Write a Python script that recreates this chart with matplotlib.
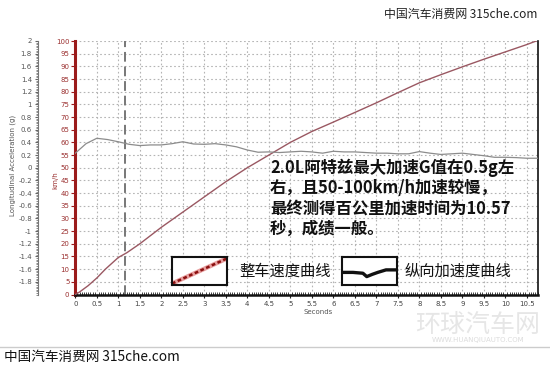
import matplotlib
matplotlib.use("Agg")
import matplotlib.pyplot as plt
from matplotlib.ticker import MultipleLocator, FixedLocator
import numpy as np

plt.rcParams['font.family'] = ['DejaVu Sans']
CJK = ['Noto Sans CJK SC', 'DejaVu Sans']

# Vehicle speed (km/h) against time (s)
speed_t = [0, 0.1, 0.3, 0.5, 0.7, 1.0, 1.2, 1.5, 2.0, 2.5, 3.0, 3.5, 4.0, 4.5,
           5.0, 5.5, 6.0, 6.5, 7.0, 7.5, 8.0, 8.5, 9.0, 9.5, 10.0, 10.5, 10.72]
speed_kmh = [0, 1, 3.5, 6.5, 10, 14.6, 16.5, 20, 26.5, 32.5, 38.5, 44.5, 50, 55,
             60, 64.3, 68, 71.8, 75.6, 79.6, 83.5, 86.7, 89.8, 92.8, 95.7, 98.6, 100]

# Longitudinal acceleration (g) against time (s)
accel_t = [0, 0.25, 0.5, 0.75, 1.0, 1.25, 1.5, 1.75, 2.0, 2.25, 2.5, 2.75, 3.0,
           3.25, 3.5, 3.75, 4.0, 4.25, 4.5, 4.75, 5.0, 5.25, 5.5, 5.75, 6.0,
           6.25, 6.5, 6.75, 7.0, 7.25, 7.5, 7.75, 8.0, 8.25, 8.5, 8.75, 9.0,
           9.25, 9.5, 9.75, 10.0, 10.25, 10.5, 10.75]
accel_g = [0.23, 0.38, 0.465, 0.445, 0.41, 0.37, 0.35, 0.36, 0.36, 0.38, 0.41,
           0.375, 0.37, 0.38, 0.36, 0.33, 0.28, 0.245, 0.25, 0.24, 0.25, 0.26,
           0.25, 0.23, 0.26, 0.25, 0.25, 0.24, 0.23, 0.23, 0.22, 0.22, 0.255,
           0.23, 0.21, 0.22, 0.23, 0.21, 0.19, 0.165, 0.165, 0.16, 0.15, 0.15]

marker_time = 1.16

x_ticks = [i * 0.5 for i in range(22)]
speed_ticks = list(range(0, 101, 5))
accel_ticks = [round(-1.8 + 0.2 * i, 1) for i in range(20)]

# Legend sample shapes (fractions of the sample box)
legend_speed_x = [0.0, 1.0]
legend_speed_y = [0.05, 0.95]
legend_accel_x = [0.0, 0.2, 0.38, 0.45, 0.55, 0.65, 0.8, 1.0]
legend_accel_y = [0.45, 0.45, 0.42, 0.30, 0.38, 0.45, 0.54, 0.54]

title_note = ["2.0L阿特兹最大加速G值在0.5g左",
              "右，且50-100km/h加速较慢，",
              "最终测得百公里加速时间为10.57",
              "秒，成绩一般。"]

W, H = 550, 366
fig = plt.figure(figsize=(W / 100, H / 100), dpi=100)
fig.patch.set_facecolor('white')


def fx(px):
    return px / W


def fy(py):
    return 1 - py / H


left, right, top, bottom = 75.3, 538, 41, 294.5
ax = fig.add_axes([fx(left), fy(bottom), fx(right - left), fy(top) - fy(bottom)])
ax.set_xlim(0, (right - left) / 43.0)
ax.set_ylim(0, 100)

# grid
ax.set_xticks(x_ticks)
ax.set_yticks(speed_ticks)
ax.grid(True, color='#b4b4b4', linestyle=(0, (1.5, 2.2)), linewidth=0.8)
ax.set_axisbelow(True)
ax.axvline(marker_time, color='#777777', linestyle=(0, (5, 2.5)), linewidth=1.4, zorder=2)

ax.plot(speed_t, speed_kmh, color='#9a5862', linewidth=1.0, zorder=4)

ax.spines['top'].set_visible(False)
ax.spines['left'].set_color('#9b1c1c')
ax.spines['left'].set_linewidth(2.2)
ax.spines['bottom'].set_color('#111111')
ax.spines['bottom'].set_linewidth(1.8)
ax.spines['right'].set_color('#111111')
ax.spines['right'].set_linewidth(1.2)

ax.xaxis.set_minor_locator(MultipleLocator(0.05))
ax.tick_params(axis='x', which='major', length=2, direction='out', color='#222222',
               labelsize=5, labelcolor='#444444', pad=2.5)
ax.tick_params(axis='x', which='minor', length=2, direction='in', color='#222222')
ax.tick_params(axis='y', which='major', length=3, direction='out', color='#9b1c1c',
               labelsize=5, labelcolor='#9b3030', pad=1.2)
ax.set_xticklabels([('%g' % v) for v in x_ticks])
ax.set_yticklabels([str(v) for v in speed_ticks])

# acceleration axis on the far left
ax2 = ax.twinx()
ax2.set_ylim(-2, 2)
ax2.plot(accel_t, accel_g, color='#8c8c8c', linewidth=0.9, zorder=3)
ax2.spines['right'].set_visible(False)
ax2.spines['top'].set_visible(False)
ax2.spines['bottom'].set_visible(False)
ax2.spines['left'].set_visible(True)
ax2.spines['left'].set_position(('axes', -(left - 37.5) / (right - left)))
ax2.spines['left'].set_color('#777777')
ax2.spines['left'].set_linewidth(0.8)
ax2.yaxis.set_ticks_position('left')
ax2.yaxis.set_label_position('left')
ax2.yaxis.set_major_locator(FixedLocator(accel_ticks))
ax2.yaxis.set_minor_locator(MultipleLocator(0.025))
ax2.set_yticklabels([('%g' % v) for v in accel_ticks])
ax2.tick_params(axis='y', which='major', length=2.5, color='#666666', labelsize=5,
                labelcolor='#555555', pad=1.5)
ax2.tick_params(axis='y', which='minor', length=1.5, color='#777777')

fig.text(fx(13), fy(165), 'Longitudinal Acceleration (g)', rotation=90, ha='center',
         va='center', fontsize=5, color='#555555')
fig.text(fx(55), fy(180), 'km/h', rotation=90, ha='center', va='center',
         fontsize=5, color='#9b3030')
fig.text(fx(318), fy(312), 'Seconds', ha='center', va='center', fontsize=5,
         color='#555555')

# commentary
for i, line in enumerate(title_note):
    fig.text(fx(270), fy(168 + 20.3 * i), line, ha='left', va='center',
             fontsize=11.8, fontweight='bold', family=CJK, color='#111111')

# legend samples
def sample_box(x0, x1, y0, y1):
    bax = fig.add_axes([fx(x0), fy(y1), fx(x1 - x0), fy(y0) - fy(y1)])
    bax.set_xlim(0, 1)
    bax.set_ylim(0, 1)
    bax.set_xticks([])
    bax.set_yticks([])
    bax.set_facecolor('white')
    for s in bax.spines.values():
        s.set_linewidth(1.5)
        s.set_color('#111111')
    return bax

b1 = sample_box(172, 227, 257, 285)
b1.plot(legend_speed_x, legend_speed_y, color='#e8a0a0', linewidth=3.2)
b1.plot(legend_speed_x, legend_speed_y, color='#8b1010', linewidth=1.8,
        linestyle=(0, (1.5, 1)))
fig.text(fx(239), fy(271), '整车速度曲线', ha='left', va='center', fontsize=11,
         family=CJK, color='#111111')

b2 = sample_box(342, 397, 257, 285)
b2.plot(legend_accel_x, legend_accel_y, color='#111111', linewidth=2.4)
fig.text(fx(405), fy(271), '纵向加速度曲线', ha='left', va='center', fontsize=11,
         family=CJK, color='#111111')

# site marks
fig.text(fx(384), fy(14), '中国汽车消费网 315che.com', ha='left', va='center',
         fontsize=8.6, family=CJK, color='#222222')
fig.text(fx(4), fy(357), '中国汽车消费网 315che.com', ha='left', va='center',
         fontsize=9.8, family=CJK, color='#111111')
fig.add_artist(plt.Line2D([0, 1], [fy(347), fy(347)], color='#cccccc', linewidth=1.0))
fig.text(fx(478), fy(325), '环球汽车网', ha='center', va='center', fontsize=18,
         family=CJK, color='#e6e6e6')
fig.text(fx(478), fy(340), 'WWW.HUANQIUAUTO.COM', ha='center', va='center',
         fontsize=5, color='#dcdcdc')

fig.savefig('out.png', dpi=100, facecolor='white')
